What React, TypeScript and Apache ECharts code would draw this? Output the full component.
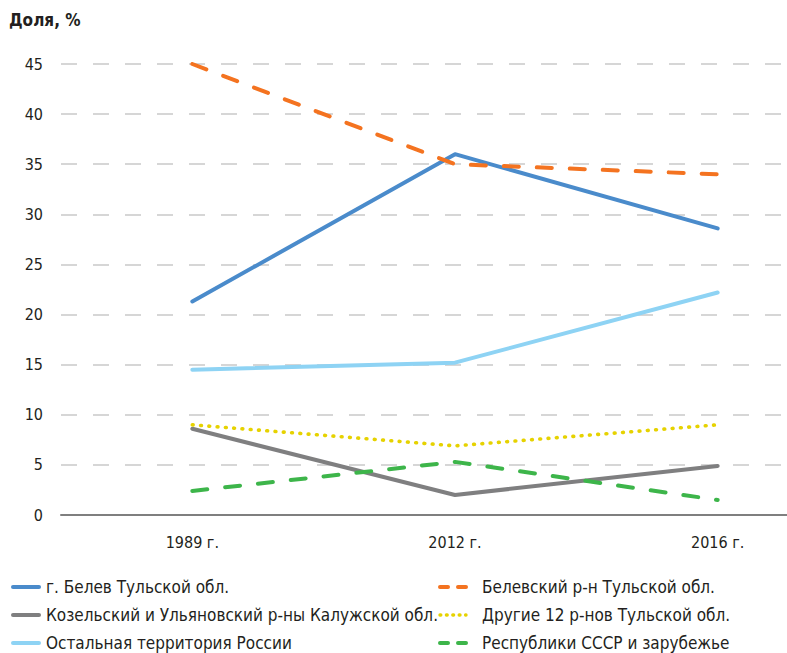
import React, { useEffect, useRef } from "react";
import * as echarts from "echarts";

const categories = ["1989 г.", "2012 г.", "2016 г."];
const belevCity = [21.3, 36.0, 28.6];
const belevDistrict = [45.0, 35.0, 34.0];
const kozelsk = [8.6, 2.0, 4.9];
const other12 = [9.0, 6.9, 9.0];
const restRussia = [14.5, 15.2, 22.2];
const ussr = [2.4, 5.3, 1.5];

const names = [
  "г. Белев Тульской обл.",
  "Белевский р-н Тульской обл.",
  "Козельский и Ульяновский р-ны Калужской обл.",
  "Другие 12 р-нов Тульской обл.",
  "Остальная территория России",
  "Республики СССР и зарубежье",
];

const FONT = "'Liberation Sans Narrow', 'DejaVu Sans Condensed', 'Roboto', sans-serif";

export default function App() {
  const ref = useRef<HTMLDivElement>(null);
  useEffect(() => {
    if (!ref.current) return;
    const chart = echarts.init(ref.current, undefined, { renderer: "svg" });
    const mk = (name: string, data: number[], color: string, width: number, type: any) => ({
      name,
      type: "line",
      data,
      symbol: "none",
      lineStyle: { color, width, type, cap: "round", join: "round" },
      itemStyle: { color },
    });
    const legendBase = {
      orient: "vertical",
      top: 577,
      padding: 0,
      itemGap: 8,
      itemWidth: 26,
      itemHeight: 14,
      selectedMode: false,
      itemStyle: { opacity: 0 },
      lineStyle: { width: 4, cap: "round" },
    };
    const solidItem = (name: string) => ({ name, lineStyle: { width: 4, type: "solid", cap: "round" } });
    const dashItem = (name: string) => ({ name, lineStyle: { width: 4, type: [8, 10], cap: "round" } });
    const dotItem = (name: string) => ({ name, lineStyle: { width: 3.4, type: [0.8, 5.6], cap: "round" } });
    chart.setOption({
      animation: false,
      backgroundColor: "#ffffff",
      textStyle: { fontFamily: FONT },
      title: {
        text: "Доля, %",
        left: 9,
        top: 11,
        padding: 0,
        textStyle: { fontFamily: FONT, fontSize: 17, fontWeight: "bold", color: "#231f20" },
      },
      grid: { left: 61, top: 64, width: 788, height: 451 },
      xAxis: {
        type: "category",
        data: categories,
        boundaryGap: true,
        axisLine: { show: true, lineStyle: { color: "#7f7f7f", width: 2 } },
        axisTick: { show: false },
        axisLabel: { fontFamily: FONT, fontSize: 16, color: "#231f20", margin: 19 },
        splitLine: { show: false },
      },
      yAxis: {
        type: "value",
        min: 0,
        max: 45,
        interval: 5,
        axisLine: { show: false },
        axisTick: { show: false },
        axisLabel: { fontFamily: FONT, fontSize: 16, color: "#231f20", margin: 18 },
        splitLine: { lineStyle: { color: "#c9c9c9", width: 1.5, type: [16, 16] } },
      },
      legend: [
        {
          ...legendBase,
          left: 11,
          data: [solidItem(names[0]), solidItem(names[2]), solidItem(names[4])],
          textStyle: { fontFamily: FONT, fontSize: 17, color: "#231f20", lineHeight: 20, padding: [0, 0, 0, 2] },
        },
        {
          ...legendBase,
          left: 438,
          data: [dashItem(names[1]), dotItem(names[3]), dashItem(names[5])],
          textStyle: { fontFamily: FONT, fontSize: 17, color: "#231f20", lineHeight: 20, padding: [0, 0, 0, 11] },
        },
      ],
      series: [
        mk(names[0], belevCity, "#4a8bcb", 4, "solid"),
        mk(names[1], belevDistrict, "#f47320", 4, [15, 18]),
        mk(names[2], kozelsk, "#7f7f80", 4, "solid"),
        mk(names[3], other12, "#e6d200", 3.6, [0.8, 7.5]),
        mk(names[4], restRussia, "#8ed3f4", 4, "solid"),
        mk(names[5], ussr, "#3db54a", 4, [15, 18]),
      ],
    });
    return () => chart.dispose();
  }, []);
  return (
    <div style={{ position: "absolute", left: 0, top: 0, width: 787, height: 653, overflow: "hidden" }}>
      <div ref={ref} style={{ width: 850, height: 720 }} />
    </div>
  );
}
